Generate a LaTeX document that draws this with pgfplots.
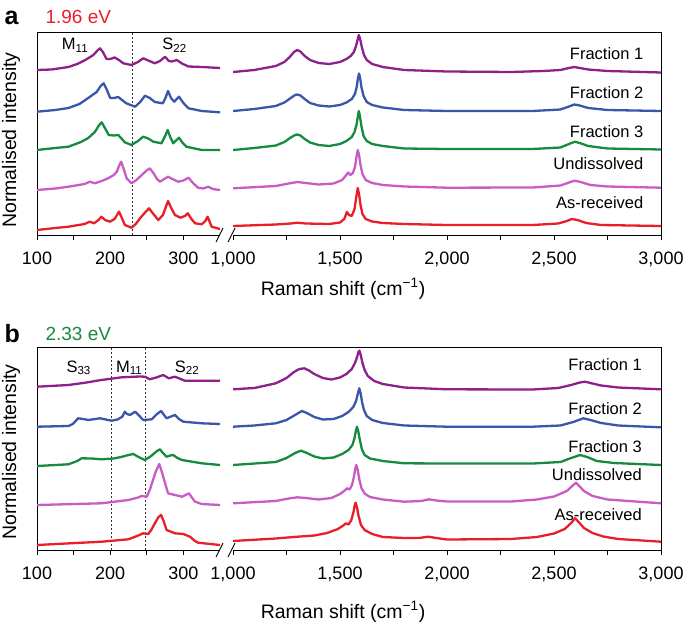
\documentclass[border=0pt]{standalone}
\usepackage{pgfplots}
\pgfplotsset{compat=1.18}
\usepackage{fontspec}
\setmainfont{Liberation Sans}
\definecolor{cpur}{RGB}{142,32,140}
\definecolor{cblu}{RGB}{58,86,168}
\definecolor{cgrn}{RGB}{22,138,62}
\definecolor{cpnk}{RGB}{200,92,196}
\definecolor{cred}{RGB}{232,30,40}
\pgfplotsset{
  brk/.style={scale only axis, height=203pt, ymin=0, ymax=203, ytick=\empty, no markers,
    axis x line*=box, tick align=outside, xtick pos=left,
    major tick length=5pt,
    axis line style={line width=0.9pt}, tick style={line width=0.9pt, black},
    xticklabel style={font=\fontsize{18}{20}\selectfont, yshift=-8pt},
    every axis plot/.append style={line width=2.3pt, line join=round, line cap=round},
  },
  leftax/.style={brk, width=183pt, xmin=100, xmax=350, axis y line*=left,
    xtick={100,150,...,300}, xticklabels={100,,200,,300}},
  rightax/.style={brk, width=428pt, xmin=1000, xmax=3000, axis y line*=right,
    xtick={1000,1250,...,3000},
    xticklabels={{1,000},,{1,500},,{2,000},,{2,500},,{3,000}}},
}
\tikzset{
  vdash/.style={black!80, line width=0.6pt, dash pattern=on 2pt off 2pt, line cap=butt},
  lab/.style={font=\fontsize{16.5}{18}\selectfont, anchor=east},
  band/.style={font=\fontsize{16.5}{18}\selectfont, anchor=base},
}
\begin{document}
\begin{tikzpicture}
\useasboundingbox (0pt,0pt) rectangle (685pt,-623pt);
% ---------------- panel a ----------------
\node[anchor=base west, font=\bfseries\fontsize{25}{25}\selectfont] at (1pt,-25pt) {a};
\node[anchor=base west, text=cred, font=\fontsize{19}{20}\selectfont] at (42pt,-24pt) {1.96 eV};
\node[rotate=90, font=\fontsize{19.5}{20}\selectfont] at (11pt,-140pt) {Normalised intensity};
\node[font=\fontsize{19.5}{20}\selectfont] at (343pt,-289pt) {Raman shift (cm\textsuperscript{−1})};
\begin{axis}[leftax, at={(37pt,-235pt)}, anchor=south west]
\addplot[vdash] coordinates {(230,0) (230,203)};
\addplot[cpur] coordinates {(100,165) (120,165.5) (143,168) (155,171) (166,175) (177,180) (182,184) (186,186.7) (190,183) (195,176) (200,176) (206,177.5) (212,175) (218,171.7) (229,170) (238,173) (245,176.7) (252,174.5) (261,171.7) (268,174) (275,178.3) (280,174) (284,173.5) (291,175) (298,171.5) (307,168.5) (325,168) (350,167)};
\addplot[cblu] coordinates {(100,123.3) (125,125) (143,127) (158,131) (170,137) (181.5,143) (187,149) (191,151.7) (195,146) (200,137) (205,137) (211,138) (217,134.5) (222,131.7) (234,128.3) (241,133) (247.5,139.3) (254,137) (261,133) (272,131.7) (276,138) (279,144) (283,137) (287.5,133.3) (294,138.3) (300,132) (307,126.7) (325,124) (350,122.7)};
\addplot[cgrn] coordinates {(100,85) (125,87) (143,88.3) (160,93) (170,97) (179,103) (185,110) (188.3,112.7) (192,108) (198,100) (205,99.5) (211,100) (216,96) (220,92.7) (229,90) (238,94) (245,98.3) (252,96.5) (259,93.3) (270,91.7) (275,99) (278.5,105) (282,98) (286,91.7) (290,94.5) (294,97.3) (299,92) (304,88.3) (325,85) (350,85)};
\addplot[cpnk] coordinates {(100,45) (125,46.5) (143,48.3) (165,51) (172,53.3) (179,51.7) (190,54.5) (197,56.7) (205,60) (209,63.3) (212,69) (215,73.3) (218,67) (222.5,56.7) (229,51.7) (236,55) (243,60) (249,64) (254,66.7) (259,62) (264,56) (268,53.3) (274,56) (279,58.3) (285,56) (293,53.3) (300,54.5) (307,57.3) (313,52) (320,47.3) (327,46.5) (334,48.3) (340,46) (350,45)};
\addplot[cred] coordinates {(100,5) (125,7) (143,8.3) (165,11) (172,13.3) (178,11.7) (184,15) (188,18.3) (193,15) (199.7,13.3) (206,16) (212,23.3) (216,17) (220,10) (229,7.3) (235,11) (240.7,16.7) (247,22) (253,26.7) (259,21) (265.7,15) (272,20) (279,34) (284,26) (288.5,20) (296,17.3) (302,19) (306,21.7) (311,16) (316,11.7) (325,10.7) (330,14) (333,18.3) (336,13) (338.6,8.3) (350,6)};
\node[band] at (axis cs:152,185) {M\textsubscript{11}};
\node[band] at (axis cs:288,185) {S\textsubscript{22}};
\end{axis}
\begin{axis}[rightax, at={(233pt,-235pt)}, anchor=south west]
\addplot[cpur] coordinates {(1000,163) (1100,165) (1200,169) (1240,173) (1265,178) (1285,183) (1300,185) (1315,183.5) (1335,179) (1360,175) (1400,172) (1450,171) (1500,173) (1530,176) (1550,179) (1565,183) (1575,189) (1582,195) (1588,200) (1594,196) (1602,188) (1612,180) (1625,175) (1650,171) (1700,168) (1800,165) (2000,163.5) (2300,163) (2450,164) (2530,165) (2570,167) (2595,168) (2620,167) (2660,165.5) (2750,164) (3000,162.5)};
\addplot[cblu] coordinates {(1000,124) (1100,126) (1200,129) (1240,132.5) (1270,137) (1290,140) (1300,140.5) (1315,139.5) (1335,136) (1360,132) (1400,129.5) (1450,128.5) (1500,130) (1530,132.5) (1555,136) (1570,141) (1578,148) (1584,157) (1589,161.5) (1594,157) (1600,148) (1610,139) (1625,133) (1650,130) (1700,127.5) (1800,125) (2000,124) (2400,124) (2530,125.5) (2570,128.5) (2595,130.5) (2620,129.5) (2660,127) (2750,125) (3000,124)};
\addplot[cgrn] coordinates {(1000,85) (1100,87) (1200,89.5) (1240,93) (1270,97.5) (1290,100) (1300,100.5) (1315,99.5) (1335,96) (1360,92.5) (1400,90) (1450,89) (1500,91) (1530,94) (1555,98) (1568,103) (1577,110) (1583,118) (1588,124) (1593,119) (1600,109) (1610,99) (1625,94) (1650,91) (1700,89) (1800,86.5) (2000,86) (2400,86) (2530,87.5) (2570,91) (2597,93.3) (2620,92) (2660,89) (2750,86.5) (3000,85.5)};
\addplot[cpnk] coordinates {(1000,46.7) (1200,49) (1260,51.5) (1300,53) (1340,52) (1400,50.5) (1470,51.5) (1510,55) (1530,60) (1538,62.5) (1548,60) (1560,62) (1570,68) (1577,78) (1583,85) (1589,80) (1596,70) (1605,61) (1620,55) (1650,52) (1700,50) (1800,48.5) (2000,47.3) (2400,47.5) (2530,49.5) (2570,52.5) (2597,54.3) (2625,53) (2670,50) (2750,48.5) (3000,47.3)};
\addplot[cred] coordinates {(1000,9) (1200,10.5) (1270,11.5) (1300,12.3) (1340,11.5) (1450,11) (1500,12.5) (1520,16) (1532,23) (1542,20) (1555,19) (1568,26) (1576,38) (1583,47) (1589,41) (1596,30) (1605,21) (1620,16) (1650,13.5) (1700,12) (1800,11) (2000,10) (2400,10) (2520,11.5) (2560,14) (2583,16) (2610,15) (2650,12) (2720,10) (3000,9)};
\node[lab] at (axis cs:2934,181) {Fraction 1};
\node[lab] at (axis cs:2934,142) {Fraction 2};
\node[lab] at (axis cs:2934,103) {Fraction 3};
\node[lab] at (axis cs:2934,71) {Undissolved};
\node[lab] at (axis cs:2934,32) {As-received};
\end{axis}
\draw[line width=0.9pt] (220pt,-32pt) -- (233pt,-32pt);
\draw[line width=0.9pt] (216pt,-242pt) -- (223pt,-228pt);
\draw[line width=0.9pt] (228pt,-242pt) -- (235pt,-228pt);
% ---------------- panel b ----------------
\node[anchor=base west, font=\bfseries\fontsize{25}{25}\selectfont] at (1pt,-342pt) {b};
\node[anchor=base west, text=cgrn, font=\fontsize{19}{20}\selectfont] at (42pt,-340pt) {2.33 eV};
\node[rotate=90, font=\fontsize{19.5}{20}\selectfont] at (11pt,-452pt) {Normalised intensity};
\node[font=\fontsize{19.5}{20}\selectfont] at (343pt,-612pt) {Raman shift (cm\textsuperscript{−1})};
\begin{axis}[leftax, at={(37pt,-550pt)}, anchor=south west]
\addplot[vdash] coordinates {(201,0) (201,203)};
\addplot[vdash] coordinates {(248,0) (248,203)};
\addplot[cpur] coordinates {(100,163.3) (143,165) (166,167.3) (188,170) (215.7,172.7) (240,173.5) (247.5,173.3) (254,170.7) (263,172.5) (272.5,175) (280,171.7) (288.5,173.3) (302,169.3) (350,169.3)};
\addplot[cblu] coordinates {(100,123.3) (143,124) (149,126) (152,128.3) (156,131.7) (163,131) (170,130) (186,131.7) (202,129.3) (210,130.5) (216.5,133.3) (220,138.3) (223,136) (227,135) (234,138.3) (240,134) (245,130) (256.7,130.7) (264,136) (269.5,139) (277,131.7) (283,133.5) (288.5,135) (294,131) (300,128.3) (325,126.7) (350,126)};
\addplot[cgrn] coordinates {(100,84) (143,85.7) (155,89) (161,91.7) (175,91.5) (188,90.7) (205,91.5) (216.5,93.3) (225,95) (231.5,96) (240,92.5) (247.5,90) (256,94) (263,98.5) (268,100.7) (272,97) (277,93.3) (282,94.5) (286,95) (292,92) (298,90) (325,86.7) (350,85)};
\addplot[cpnk] coordinates {(100,45) (188,46.7) (225,50) (238,52.5) (243,54) (250,53.3) (254,60) (257,66.7) (262,78) (267,86) (271,77) (275,66.7) (279,56.7) (288.5,55) (298,53.3) (303,55) (307.6,56.7) (312,52) (316,48.3) (325,46) (350,45)};
\addplot[cred] coordinates {(100,5) (188,8.3) (225,10.7) (240,15) (245,16.7) (252,16) (256,20) (261,26.7) (266,33) (269.5,35) (273,29) (277,20) (288.5,16.7) (300,16) (309,13.3) (315,9.5) (320,7.3) (350,5)};
\node[band] at (axis cs:157,178) {S\textsubscript{33}};
\node[band] at (axis cs:226,178) {M\textsubscript{11}};
\node[band] at (axis cs:305,178) {S\textsubscript{22}};
\end{axis}
\begin{axis}[rightax, at={(233pt,-550pt)}, anchor=south west]
\addplot[cpur] coordinates {(1000,160.7) (1100,162) (1200,166.7) (1250,172) (1285,178) (1310,181) (1333,181.7) (1355,179.5) (1380,176) (1420,172) (1460,170.5) (1500,172.5) (1530,176) (1555,181) (1570,187) (1580,193) (1586,198) (1591,199.3) (1597,195) (1605,187) (1615,180) (1630,174) (1660,169) (1700,166) (1800,162.5) (2000,160.7) (2400,160.5) (2520,162) (2580,165) (2620,167.5) (2645,168.3) (2670,167) (2720,164.5) (2800,162.5) (3000,160.7)};
\addplot[cblu] coordinates {(1000,123.3) (1100,124.5) (1200,126.7) (1250,130) (1290,135) (1322,139) (1345,137) (1380,133) (1420,130.5) (1470,131) (1510,134) (1540,138) (1562,143) (1575,149) (1583,156) (1590,161.7) (1596,157) (1603,148) (1612,140) (1625,134) (1650,130) (1700,127) (1800,124.5) (2000,123.3) (2400,123.3) (2530,124.5) (2590,128) (2637,131.7) (2670,130) (2720,127) (2800,124.5) (3000,122.7)};
\addplot[cgrn] coordinates {(1000,85) (1100,86.5) (1200,88) (1250,92) (1290,97) (1317,99.3) (1340,97.5) (1380,93.5) (1420,91.5) (1470,92.5) (1510,96) (1540,100) (1558,105) (1568,112) (1574,119) (1579,123.3) (1585,119) (1592,111) (1602,101) (1615,95) (1640,91.5) (1700,89) (1800,86.7) (2000,86.5) (2400,86.5) (2530,88) (2580,92) (2622,95) (2655,93) (2700,89) (2780,87) (3000,85)};
\addplot[cpnk] coordinates {(1000,46.7) (1200,49) (1260,51.5) (1301,52.7) (1340,52) (1400,50.5) (1460,52) (1500,56) (1522,59.5) (1533,61.7) (1545,60.5) (1556,65) (1565,73) (1571,81) (1576,85) (1582,81) (1590,71) (1600,62) (1615,56.5) (1640,53) (1700,50.5) (1800,48.3) (1880,49) (1916,50.7) (1950,49.5) (2000,48.5) (2300,48.5) (2420,50.5) (2500,53.5) (2560,59) (2590,65) (2603,67.3) (2618,64) (2640,59) (2680,54) (2750,50.5) (3000,46.7)};
\addplot[cred] coordinates {(1000,9) (1200,11.5) (1300,13.3) (1380,14.5) (1440,17) (1490,21) (1515,24.5) (1528,26.7) (1540,25.5) (1553,30) (1563,38) (1569,45) (1573,47.3) (1579,43) (1587,34) (1598,25) (1615,20) (1650,16) (1700,13) (1800,12) (1870,12) (1911,13.3) (1950,12) (2000,10.5) (2300,11) (2420,13) (2500,16.5) (2550,21) (2580,27) (2598,31.7) (2615,28) (2640,22) (2680,17) (2730,13.5) (2800,11) (3000,8.3)};
\node[lab] at (axis cs:2927,185) {Fraction 1};
\node[lab] at (axis cs:2927,141.7) {Fraction 2};
\node[lab] at (axis cs:2927,103.3) {Fraction 3};
\node[lab] at (axis cs:2927,75) {Undissolved};
\node[lab] at (axis cs:2927,35) {As-received};
\end{axis}
\draw[line width=0.9pt] (220pt,-347pt) -- (233pt,-347pt);
\draw[line width=0.9pt] (216pt,-557pt) -- (223pt,-543pt);
\draw[line width=0.9pt] (228pt,-557pt) -- (235pt,-543pt);
\end{tikzpicture}
\end{document}
